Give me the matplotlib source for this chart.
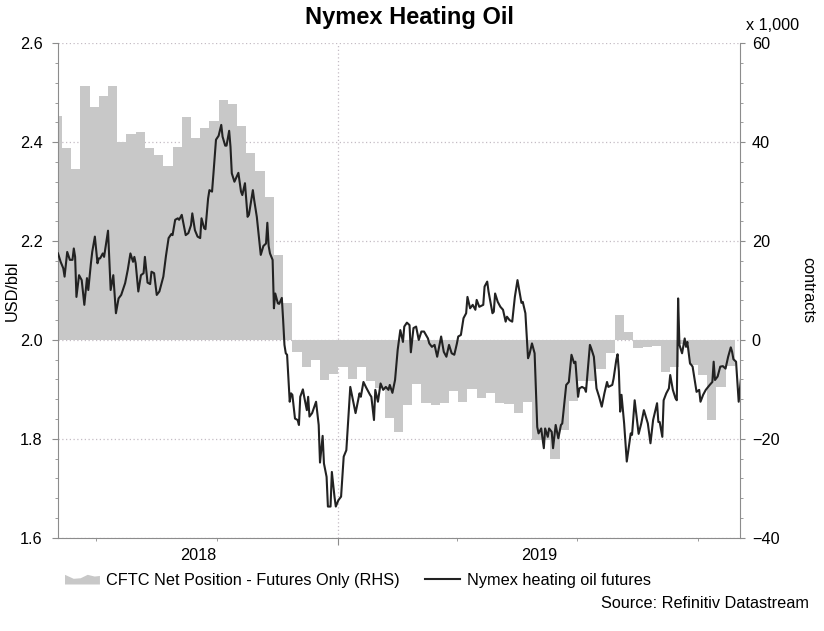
import matplotlib
matplotlib.use('Agg')
import matplotlib.pyplot as plt
import matplotlib.dates as mdates
from matplotlib.ticker import MultipleLocator, NullFormatter, FormatStrFormatter
from matplotlib.patches import Polygon, Patch
from matplotlib.legend_handler import HandlerPatch
from matplotlib.lines import Line2D
import pandas as pd

plt.rcParams['font.family'] = ['Liberation Sans', 'DejaVu Sans']

# CFTC net position, thousand contracts, weekly (Tuesdays) from 2018-05-29
cftc_start = '2018-05-29'
cftc_net = [45.3, 38.8, 34.5, 51.4, 47.1, 49.3, 51.4, 40.0, 41.7, 42.0,
            38.8, 37.4, 35.2, 39.1, 45.0, 40.8, 42.9, 44.3, 48.5, 47.7,
            43.3, 37.9, 34.2, 29.0, 17.2, 7.4, -2.4, -5.4, -4.1, -8.1,
            -6.9, -5.4, -7.8, -5.5, -8.4, -9.8, -15.8, -18.6, -13.2, -9.0,
            -12.8, -13.2, -12.7, -10.3, -12.5, -10.0, -11.7, -10.7, -12.8, -13.0,
            -14.8, -12.5, -20.2, -20.2, -24.0, -18.2, -12.3, -8.4, -8.4, -5.9,
            -2.7, 5.0, 1.7, -1.7, -1.4, -1.2, -6.4, -5.4, -0.8, -5.0,
            -7.1, -16.2, -9.6, -5.2]

# Nymex heating oil futures, USD/bbl; days counted from 2018-06-01
price_start = '2018-06-01'
price_day = [1, 3, 5, 6, 8, 10, 12, 13, 14, 15,
             17, 19, 21, 23, 24, 26, 27, 29, 31, 32,
             33, 35, 36, 39, 41, 43, 45, 47, 49, 52,
             54, 56, 58, 59, 60, 62, 64, 66, 67, 69,
             71, 72, 74, 76, 78, 81, 83, 85, 87, 88,
             90, 92, 93, 95, 98, 100, 102, 103, 105, 107,
             109, 110, 112, 113, 115, 116, 118, 119, 121, 123,
             125, 126, 128, 129, 131, 132, 133, 135, 138, 140,
             141, 143, 145, 146, 149, 150, 152, 155, 157, 159,
             160, 161, 162, 164, 165, 166, 168, 169, 171, 172,
             173, 174, 175, 177, 178, 179, 181, 183, 184, 185,
             187, 188, 190, 191, 192, 194, 197, 199, 200, 202,
             203, 205, 206, 208, 209, 211, 212, 214, 216, 218,
             220, 223, 227, 230, 231, 233, 235, 238, 239, 241,
             242, 244, 246, 248, 250, 252, 253, 255, 257, 259,
             261, 263, 264, 266, 268, 269, 271, 273, 275, 277,
             279, 282, 283, 285, 287, 289, 290, 292, 294, 296,
             298, 300, 302, 304, 305, 307, 309, 311, 312, 314,
             316, 318, 319, 321, 324, 325, 327, 328, 331, 332,
             333, 335, 337, 339, 341, 342, 344, 346, 348,
             350, 353, 354, 356, 358, 359, 361, 363, 365, 366,
             368, 370, 371, 373, 374, 376, 377, 379, 381, 383,
             384, 387, 389, 391, 393, 394, 396, 397, 399, 401,
             402, 405, 406, 408, 410, 412, 414, 416, 418, 419,
             422, 423, 425, 426, 427, 428, 429, 431, 433, 436,
             437, 439, 442, 444, 446, 449, 451, 453, 456, 457,
             458, 460, 461, 463, 465, 466, 468, 470, 471, 472,
             473, 475, 477, 478, 479, 481, 483, 486, 488, 489,
             491, 493, 496, 498, 499, 500, 502, 504, 506, 508,
             510, 512, 513, 514, 516, 517, 518, 520]
price_usd = [2.175, 2.158, 2.145, 2.128, 2.178, 2.162, 2.162, 2.185, 2.168, 2.087,
             2.131, 2.121, 2.071, 2.125, 2.101, 2.155, 2.178, 2.209, 2.155, 2.165,
             2.165, 2.175, 2.168, 2.221, 2.101, 2.131, 2.054, 2.084, 2.091, 2.115,
             2.142, 2.175, 2.158, 2.168, 2.155, 2.098, 2.131, 2.135, 2.168, 2.116,
             2.113, 2.138, 2.135, 2.091, 2.098, 2.128, 2.170, 2.206, 2.214, 2.212,
             2.243, 2.246, 2.243, 2.253, 2.212, 2.216, 2.232, 2.256, 2.222, 2.209,
             2.206, 2.246, 2.226, 2.224, 2.286, 2.303, 2.300, 2.334, 2.405, 2.413,
             2.435, 2.411, 2.393, 2.393, 2.423, 2.391, 2.337, 2.320, 2.338, 2.300,
             2.293, 2.317, 2.249, 2.253, 2.303, 2.283, 2.249, 2.172, 2.190, 2.195,
             2.237, 2.190, 2.175, 2.162, 2.064, 2.094, 2.074, 2.073, 2.085, 2.040,
             1.990, 1.973, 1.970, 1.875, 1.892, 1.889, 1.841, 1.838, 1.828, 1.885,
             1.900, 1.885, 1.858, 1.885, 1.845, 1.852, 1.875, 1.828, 1.752, 1.806,
             1.750, 1.723, 1.663, 1.663, 1.733, 1.683, 1.663, 1.676, 1.683, 1.764,
             1.777, 1.905, 1.852, 1.892, 1.885, 1.915, 1.904, 1.889, 1.885, 1.838,
             1.899, 1.875, 1.912, 1.899, 1.905, 1.899, 1.909, 1.893, 1.919, 1.980,
             2.020, 1.996, 2.027, 2.035, 2.030, 1.975, 2.024, 2.027, 2.000, 2.017,
             2.017, 2.003, 1.993, 1.986, 1.990, 1.966, 1.980, 2.007, 1.976, 1.966,
             1.990, 1.973, 1.970, 1.993, 2.007, 2.010, 2.044, 2.054, 2.087, 2.064,
             2.071, 2.061, 2.081, 2.067, 2.071, 2.108, 2.118, 2.098, 2.054, 2.057,
             2.094, 2.077, 2.067, 2.061, 2.037, 2.047, 2.040, 2.037, 2.087,
             2.121, 2.075, 2.077, 2.054, 1.963, 1.970, 1.993, 1.973, 1.824, 1.811,
             1.821, 1.781, 1.821, 1.804, 1.821, 1.814, 1.781, 1.828, 1.801, 1.828,
             1.831, 1.909, 1.915, 1.970, 1.953, 1.956, 1.885, 1.902, 1.905, 1.902,
             1.895, 1.990, 1.983, 1.966, 1.902, 1.885, 1.865, 1.892, 1.915, 1.905,
             1.909, 1.922, 1.959, 1.971, 1.936, 1.855, 1.889, 1.831, 1.754, 1.811,
             1.808, 1.878, 1.810, 1.831, 1.858, 1.831, 1.791, 1.838, 1.872, 1.834,
             1.834, 1.804, 1.878, 1.892, 1.902, 1.929, 1.899, 1.882, 1.878, 2.084,
             1.990, 1.973, 2.003, 1.986, 1.996, 1.953, 1.946, 1.895, 1.899, 1.875,
             1.889, 1.899, 1.909, 1.915, 1.956, 1.919, 1.926, 1.946, 1.947, 1.942,
             1.966, 1.985, 1.976, 1.961, 1.956, 1.915, 1.875, 1.929]

x_start, x_end = pd.Timestamp('2018-06-02'), pd.Timestamp('2019-11-02')

# weekly steps, one extra date to close the last week
cftc_dates = pd.date_range(cftc_start, periods=len(cftc_net) + 1, freq='7D')
cftc_vals = cftc_net + [cftc_net[-1]]
price_dates = pd.Timestamp(price_start) + pd.to_timedelta(price_day, unit='D')

GREY_AXIS = '#8c8c8c'
FILL = '#c8c8c8'
LINE = '#222222'
FS = 11.7

fig = plt.figure(figsize=(8.24, 6.31), dpi=100)
W, H = 824, 631
ax = fig.add_axes([58 / W, 1 - 537.7 / H, (740 - 58) / W, (537.7 - 43.3) / H])
axp = ax.twinx()

# right-hand scale (contracts) carries the shaded area and the grid
ax.fill_between(cftc_dates, 0, cftc_vals, step='post', color=FILL,
                linewidth=0, zorder=1)
ax.set_ylim(-40, 60)
ax.set_xlim(x_start, x_end)
ax.set_axisbelow(True)
ax.yaxis.tick_right()
ax.yaxis.set_major_locator(MultipleLocator(20))
ax.yaxis.set_minor_locator(MultipleLocator(4))
ax.xaxis.set_major_locator(mdates.YearLocator())
ax.xaxis.set_minor_locator(mdates.MonthLocator(bymonth=[1, 4, 7, 10]))
ax.xaxis.set_major_formatter(NullFormatter())
ax.xaxis.set_minor_formatter(NullFormatter())
ax.grid(True, which='major', color='#c4bcc4', linestyle=(0, (1, 2)), linewidth=0.9)
for s in ['left', 'right', 'bottom']:
    ax.spines[s].set_color(GREY_AXIS)
ax.spines['top'].set_visible(False)
ax.tick_params(axis='y', which='major', length=3.5, color=GREY_AXIS, labelsize=FS, pad=5)
ax.tick_params(axis='y', which='minor', length=2.5, color=GREY_AXIS)
ax.tick_params(axis='x', which='major', length=5, color=GREY_AXIS)
ax.tick_params(axis='x', which='minor', length=2, color=GREY_AXIS)

# left-hand scale (USD/bbl) carries the price line
axp.yaxis.tick_left()
axp.plot(price_dates, price_usd, color=LINE, linewidth=1.5)
axp.set_ylim(1.6, 2.6)
axp.yaxis.set_major_locator(MultipleLocator(0.2))
axp.yaxis.set_minor_locator(MultipleLocator(0.04))
axp.yaxis.set_major_formatter(FormatStrFormatter('%.1f'))
for s in axp.spines.values():
    s.set_visible(False)
axp.tick_params(axis='y', which='major', length=4, color=GREY_AXIS, labelsize=FS, pad=7)
axp.tick_params(axis='y', which='minor', length=2.5, color=GREY_AXIS)

# year labels centred on the visible part of each year
for yr in [2018, 2019]:
    lo = max(x_start, pd.Timestamp(f'{yr}-01-01'))
    hi = min(x_end, pd.Timestamp(f'{yr + 1}-01-01'))
    ax.text(lo + (hi - lo) / 2, -0.035, str(yr), transform=ax.get_xaxis_transform(),
            ha='center', va='center', fontsize=FS)

fig.text(409.5 / W, 1 - 17.5 / H, 'Nymex Heating Oil', ha='center', va='center',
         fontsize=17, fontweight='bold')
fig.text(773 / W, 1 - 26 / H, 'x 1,000', ha='center', va='center', fontsize=FS)
fig.text(12 / W, 1 - 290.5 / H, 'USD/bbl', rotation=90, ha='center', va='center', fontsize=FS)
fig.text(808 / W, 1 - 290.5 / H, 'contracts', rotation=270, ha='center', va='center', fontsize=FS)
fig.text(809.3 / W, 1 - 604 / H, 'Source: Refinitiv Datastream', ha='right', va='center', fontsize=FS)


def area_handle(legend, orig_handle, xdescent, ydescent, width, height, fontsize):
    x0, y0 = -xdescent, -ydescent
    shape = [(0, 0), (0, 0.85), (0.25, 0.5), (0.45, 0.55), (0.65, 0.85),
             (0.85, 0.7), (1, 0.75), (1, 0)]
    return Polygon([(x0 + a * width, y0 + b * height) for a, b in shape], closed=True)


leg_area = Patch(facecolor=FILL, edgecolor='none')
leg_line = Line2D([], [], color=LINE, linewidth=1.5)
fig.legend([leg_area, leg_line],
           ['CFTC Net Position - Futures Only (RHS)', 'Nymex heating oil futures'],
           loc='center left', bbox_to_anchor=(65 / W, 1 - 580 / H), ncol=2,
           frameon=False, fontsize=FS, borderaxespad=0, borderpad=0,
           handlelength=2.15, handletextpad=0.4, columnspacing=1.55,
           handler_map={Patch: HandlerPatch(patch_func=area_handle)})

fig.savefig('out.png', dpi=100)
